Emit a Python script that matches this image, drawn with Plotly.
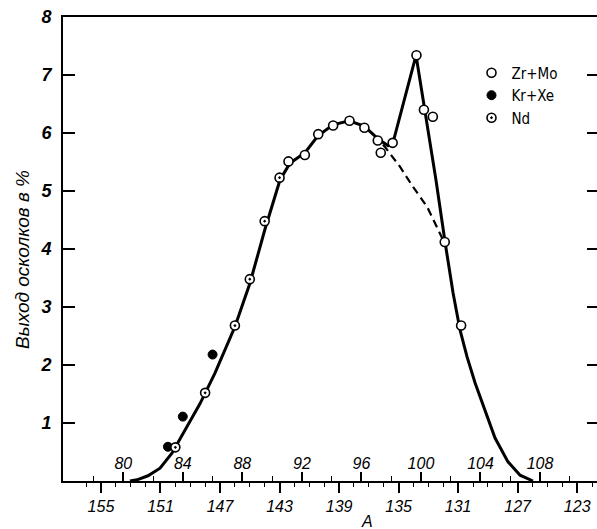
import plotly.graph_objects as go

# ---- data (light-fragment mass scale A_L; heavy scale A_H = 233.5 - A_L) ----
MASS_SUM = 233.5

zrmo_A = [91.1, 92.2, 93.1, 94.1, 95.2, 96.2, 97.1, 97.3, 98.1, 99.7, 100.2, 100.8, 101.6, 102.7]
zrmo_y = [5.51, 5.62, 5.98, 6.13, 6.21, 6.09, 5.87, 5.66, 5.83, 7.34, 6.40, 6.28, 4.12, 2.68]

krxe_A = [83.0, 84.0, 86.0]
krxe_y = [0.59, 1.11, 2.18]

nd_A_heavy = [150, 148, 146, 145, 144, 143]
nd_y = [0.58, 1.52, 2.68, 3.48, 4.48, 5.23]

curve_A = [80.45, 80.92, 81.66, 82.47, 83.27, 84.15, 85.15, 86.16, 87.5, 88.51, 89.52,
           90.53, 91.2, 92.21, 93.08, 94.09, 95.17, 96.18, 97.12, 97.79, 98.12, 99.67,
           100.34, 101.01, 101.62, 102.16, 102.63, 103.1, 103.64, 104.24, 104.98,
           105.85, 106.66, 107.53]
curve_y = [0.0, 0.02, 0.09, 0.22, 0.48, 0.88, 1.33, 1.86, 2.66, 3.41, 4.34,
           5.19, 5.48, 5.66, 5.95, 6.14, 6.21, 6.12, 5.90, 5.78, 5.83, 7.34,
           6.28, 5.19, 4.12, 3.24, 2.60, 2.14, 1.69, 1.26, 0.74,
           0.33, 0.10, 0.0]

dash_A = [97.45, 97.58, 98.59, 99.47, 100.41, 100.95, 101.48, 101.62]
dash_y = [5.80, 5.76, 5.42, 5.07, 4.73, 4.45, 4.16, 4.12]

light_ticks = [80, 84, 88, 92, 96, 100, 104, 108]
light_minor = [78, 82, 86, 90, 94, 98, 102, 106, 110]
heavy_ticks = [155, 151, 147, 143, 139, 135, 131, 127, 123]
heavy_minor = list(range(122, 157))
y_ticks = [0, 1, 2, 3, 4, 5, 6, 7, 8]

XL = [75.95, 111.83]
XH = [MASS_SUM - XL[0], MASS_SUM - XL[1]]

ital = dict(family="Liberation Sans, Arial, sans-serif", size=16, color="black", style="italic")
ital_y = dict(family="Liberation Sans, Arial, sans-serif", size=18, color="black", style="italic", weight="bold")

fig = go.Figure()

fig.add_trace(go.Scatter(x=curve_A, y=curve_y, mode="lines", line=dict(color="black", width=3),
                         showlegend=False, hoverinfo="skip"))
fig.add_trace(go.Scatter(x=dash_A, y=dash_y, mode="lines",
                         line=dict(color="black", width=2.2, dash="8px,5px"),
                         showlegend=False, hoverinfo="skip"))

fig.add_trace(go.Scatter(x=zrmo_A, y=zrmo_y, mode="markers", name="Zr+Mo",
                         marker=dict(symbol="circle", size=9, color="white",
                                     line=dict(color="black", width=1.6))))
fig.add_trace(go.Scatter(x=krxe_A, y=krxe_y, mode="markers", name="Kr+Xe",
                         marker=dict(symbol="circle", size=9, color="black",
                                     line=dict(color="black", width=1))))
fig.add_trace(go.Scatter(x=nd_A_heavy, y=nd_y, mode="markers", name="Nd", xaxis="x2",
                         marker=dict(symbol="circle-dot", size=9, color="white",
                                     line=dict(color="black", width=1.6))))
fig.add_trace(go.Scatter(x=[None], y=[None], yaxis="y2", showlegend=False, hoverinfo="skip"))

PL, PW, PT, PH = 63, 534, 17, 464


def px_to_paper(x, y):
    return (x - PL) / PW, (PT + PH - y) / PH


ax_x, ax_y = px_to_paper(367, 521)
yt_x, yt_y = px_to_paper(22, 260)

fig.update_layout(
    width=597, height=529,
    margin=dict(l=PL, r=0, t=PT, b=529 - PT - PH),
    paper_bgcolor="white", plot_bgcolor="white",
    xaxis=dict(range=XL, tickmode="array", tickvals=light_ticks,
               ticktext=[str(v) for v in light_ticks],
               ticks="inside", ticklen=9, tickwidth=1.5, tickcolor="black",
               ticklabelposition="inside", tickfont=ital,
               minor=dict(tickmode="array", tickvals=light_minor, ticks="inside",
                          ticklen=5, tickwidth=1.2, tickcolor="black"),
               showline=True, linewidth=2, linecolor="black", mirror=True,
               showgrid=False, zeroline=False),
    xaxis2=dict(range=XH, overlaying="x", side="bottom", anchor="y",
                tickmode="array", tickvals=heavy_ticks,
                ticktext=[str(v) for v in heavy_ticks],
                ticks="outside", ticklen=11, tickwidth=1.5, tickcolor="black",
                tickfont=ital,
                minor=dict(tickmode="array", tickvals=heavy_minor, ticks="outside",
                           ticklen=5, tickwidth=1.2, tickcolor="black"),
                showline=False, showgrid=False, zeroline=False),
    yaxis=dict(range=[0, 8], tickmode="array", tickvals=y_ticks,
               ticks="inside", ticklen=12, tickwidth=1.5, tickcolor="black",
               tickfont=ital_y, ticklabelstandoff=6,
               showline=True, linewidth=2, linecolor="black",
               showgrid=False, zeroline=False),
    yaxis2=dict(range=[0, 8], overlaying="y", side="right", anchor="x",
                tickmode="array", tickvals=y_ticks, ticks="inside", ticklen=10,
                tickwidth=1.5, tickcolor="black", showticklabels=False,
                showline=False, showgrid=False, zeroline=False),
    legend=dict(x=0.765, y=0.915, xanchor="left", yanchor="top",
                bgcolor="rgba(0,0,0,0)",
                font=dict(family="Liberation Sans Narrow, DejaVu Sans Condensed, Arial, sans-serif",
                          size=15, color="black"),
                itemwidth=30, tracegroupgap=0),
    annotations=[
        dict(text="A", x=ax_x, y=ax_y, xref="paper", yref="paper",
             xanchor="center", yanchor="middle", showarrow=False, font=ital),
        dict(text="Выход осколков в %", x=yt_x, y=yt_y, xref="paper", yref="paper",
             xanchor="center", yanchor="middle", textangle=-90, showarrow=False,
             font=dict(family="Liberation Sans, Arial, sans-serif", size=19,
                       color="black", style="italic")),
    ],
)

fig.write_html("out.html")
